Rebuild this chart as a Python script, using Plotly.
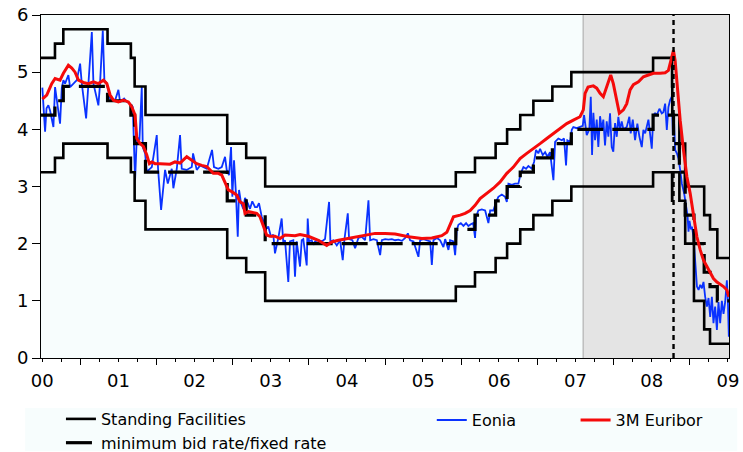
import pandas as pd
import plotly.graph_objects as go

# ---------------- data (decimal years / percent) ----------------
policy_dates = ["2000-06-09", "2000-09-01", "2000-10-11", "2001-05-11", "2001-08-31",
                "2001-09-18", "2001-11-09", "2002-12-06", "2003-03-07", "2003-06-06",
                "2005-12-06", "2006-03-08", "2006-06-15", "2006-08-09", "2006-10-11",
                "2006-12-13", "2007-03-14", "2007-06-13", "2008-07-09", "2008-10-08",
                "2008-10-09", "2008-10-15", "2008-11-12", "2008-12-10", "2009-01-21",
                "2009-03-11", "2009-04-08", "2009-05-13", "2009-07-10"]
marginal_lending = [5.25, 5.50, 5.75, 5.50, 5.25, 4.75, 4.25, 3.75, 3.50, 3.00,
                    3.25, 3.50, 3.75, 4.00, 4.25, 4.50, 4.75, 5.00, 5.25, 4.75,
                    4.25, 4.25, 3.75, 3.00, 3.00, 2.50, 2.25, 1.75, 1.75]
main_refi = [4.25, 4.50, 4.75, 4.50, 4.25, 3.75, 3.25, 2.75, 2.50, 2.00,
             2.25, 2.50, 2.75, 3.00, 3.25, 3.50, 3.75, 4.00, 4.25, 4.25,
             4.25, 3.75, 3.25, 2.50, 2.00, 1.50, 1.25, 1.00, 1.00]
deposit = [3.25, 3.50, 3.75, 3.50, 3.25, 2.75, 2.25, 1.75, 1.50, 1.00,
           1.25, 1.50, 1.75, 2.00, 2.25, 2.50, 2.75, 3.00, 3.25, 2.75,
           3.25, 3.25, 2.75, 2.00, 1.00, 0.50, 0.25, 0.25, 0.25]

eonia_t = [2000.501, 2000.517, 2000.537, 2000.556, 2000.580, 2000.602, 2000.646, 2000.668,
           2000.690, 2000.733, 2000.756, 2000.777, 2000.799, 2000.842, 2000.865, 2000.908,
           2000.953, 2000.996, 2001.018, 2001.075, 2001.105, 2001.150, 2001.171, 2001.236,
           2001.258, 2001.294, 2001.315, 2001.347, 2001.390, 2001.456, 2001.499, 2001.521,
           2001.574, 2001.609, 2001.653, 2001.688, 2001.718, 2001.741, 2001.775, 2001.806,
           2001.819, 2001.850, 2001.872, 2001.893, 2001.938, 2002.003, 2002.020, 2002.060,
           2002.112, 2002.148, 2002.200, 2002.221, 2002.266, 2002.309, 2002.331, 2002.397,
           2002.463, 2002.480, 2002.528, 2002.572, 2002.660, 2002.729, 2002.755, 2002.812,
           2002.857, 2002.900, 2002.922, 2002.952, 2002.979, 2002.996, 2003.018, 2003.044,
           2003.067, 2003.084, 2003.110, 2003.140, 2003.162, 2003.198, 2003.228, 2003.258,
           2003.294, 2003.320, 2003.346, 2003.382, 2003.403, 2003.425, 2003.468, 2003.504,
           2003.534, 2003.556, 2003.600, 2003.644, 2003.665, 2003.688, 2003.731, 2003.753,
           2003.797, 2003.819, 2003.841, 2003.885, 2003.907, 2003.928, 2003.973, 2003.986,
           2004.003, 2004.038, 2004.060, 2004.082, 2004.125, 2004.170, 2004.213, 2004.266,
           2004.283, 2004.322, 2004.367, 2004.410, 2004.445, 2004.466, 2004.511, 2004.528,
           2004.571, 2004.607, 2004.650, 2004.695, 2004.738, 2004.782, 2004.804, 2004.847,
           2004.892, 2004.935, 2004.957, 2005.001, 2005.044, 2005.089, 2005.132, 2005.175,
           2005.221, 2005.264, 2005.299, 2005.329, 2005.373, 2005.438, 2005.460, 2005.504,
           2005.548, 2005.592, 2005.614, 2005.635, 2005.680, 2005.723, 2005.766, 2005.789,
           2005.832, 2005.854, 2005.898, 2005.920, 2005.942, 2005.963, 2005.995, 2006.029,
           2006.064, 2006.094, 2006.126, 2006.157, 2006.182, 2006.195, 2006.225, 2006.270,
           2006.314, 2006.357, 2006.380, 2006.423, 2006.458, 2006.488, 2006.533, 2006.576,
           2006.599, 2006.620, 2006.664, 2006.707, 2006.751, 2006.782, 2006.817, 2006.852,
           2006.882, 2006.927, 2006.957, 2006.983, 2007.013, 2007.036, 2007.071, 2007.102,
           2007.132, 2007.167, 2007.211, 2007.233, 2007.276, 2007.321, 2007.351, 2007.377,
           2007.394, 2007.430, 2007.452, 2007.473, 2007.518, 2007.561, 2007.596, 2007.614,
           2007.649, 2007.683, 2007.702, 2007.719, 2007.736, 2007.758, 2007.780, 2007.801,
           2007.824, 2007.846, 2007.867, 2007.889, 2007.911, 2007.933, 2007.955, 2007.977,
           2007.998, 2008.021, 2008.043, 2008.064, 2008.086, 2008.108, 2008.130, 2008.174,
           2008.208, 2008.226, 2008.253, 2008.283, 2008.313, 2008.340, 2008.371, 2008.392,
           2008.415, 2008.458, 2008.480, 2008.502, 2008.523, 2008.545, 2008.568, 2008.602,
           2008.633, 2008.654, 2008.677, 2008.699, 2008.720, 2008.742, 2008.764, 2008.778,
           2008.795, 2008.808, 2008.831, 2008.852, 2008.874, 2008.896, 2008.926, 2008.953,
           2008.970, 2008.983, 2008.996, 2009.015, 2009.028, 2009.049, 2009.071, 2009.094,
           2009.115, 2009.137, 2009.159, 2009.180, 2009.202, 2009.225, 2009.246, 2009.268,
           2009.290, 2009.311, 2009.333, 2009.356, 2009.377, 2009.399, 2009.421, 2009.443,
           2009.465, 2009.487, 2009.500, 2009.513]
eonia_v = [4.73, 4.33, 3.96, 4.37, 4.42, 4.33, 4.04, 4.74,
           4.51, 4.10, 4.72, 4.86, 4.80, 4.95, 4.74, 4.80,
           4.86, 5.15, 4.80, 4.19, 4.80, 5.70, 4.80, 4.42,
           4.80, 5.73, 4.86, 4.80, 4.54, 4.51, 4.69, 4.48,
           4.54, 4.48, 4.45, 4.39, 3.11, 3.87, 3.81, 4.74,
           3.69, 3.58, 3.26, 3.29, 3.34, 3.90, 3.31, 2.59,
           3.29, 3.05, 3.31, 2.97, 3.31, 3.90, 3.31, 3.29,
           3.34, 3.58, 3.29, 3.37, 3.31, 3.64, 3.34, 3.31,
           3.34, 3.52, 3.29, 3.20, 3.69, 2.82, 3.46, 2.85,
           2.12, 2.94, 2.71, 2.61, 2.80, 2.71, 2.61, 2.74,
           2.64, 2.64, 2.71, 2.47, 2.40, 2.24, 2.30, 2.12,
           2.16, 1.83, 2.10, 2.44, 2.02, 2.06, 1.33, 2.04,
           2.06, 1.42, 2.04, 1.60, 2.06, 2.08, 1.62, 2.44,
           2.04, 2.06, 1.98, 2.04, 2.06, 2.04, 2.08, 2.73,
           2.04, 2.06, 1.97, 2.06, 1.71, 2.06, 2.53, 2.08,
           2.06, 1.92, 2.10, 2.12, 2.06, 2.76, 2.06, 2.08,
           2.06, 1.80, 2.06, 2.08, 2.07, 2.08, 2.06, 2.07,
           2.05, 2.10, 2.18, 2.06, 2.04, 1.77, 2.06, 2.08,
           2.06, 2.04, 1.63, 2.06, 2.10, 2.06, 1.94, 2.08,
           1.89, 2.06, 2.04, 1.80, 2.24, 2.33, 2.36, 2.31,
           2.36, 2.31, 2.34, 2.36, 2.10, 2.47, 2.58, 2.60,
           2.58, 2.36, 2.58, 2.58, 2.73, 2.82, 2.86, 2.82,
           2.73, 3.05, 3.03, 3.05, 3.05, 3.23, 3.34, 3.31,
           3.36, 3.31, 3.43, 3.64, 3.58, 3.66, 3.55, 3.60,
           3.52, 3.60, 3.11, 3.78, 3.84, 3.81, 3.84, 3.37,
           3.81, 3.78, 3.99, 4.04, 4.02, 4.04, 4.06, 4.25,
           3.90, 4.00, 4.57, 3.55, 4.29, 3.81, 4.17, 3.69,
           4.23, 3.99, 4.17, 3.72, 4.14, 3.87, 4.28, 3.69,
           3.61, 4.11, 3.87, 4.22, 3.99, 4.14, 4.00, 4.04,
           4.22, 3.93, 4.17, 3.81, 4.10, 3.87, 3.69, 3.99,
           3.93, 4.17, 3.90, 3.66, 4.25, 4.28, 4.25, 4.36,
           4.28, 4.30, 4.45, 3.99, 4.39, 4.51, 4.57, 3.90,
           4.10, 3.64, 3.58, 3.49, 3.29, 3.05, 2.88, 2.59,
           2.50, 2.21, 2.40, 2.25, 2.30, 2.12, 1.66, 1.25,
           1.19, 1.28, 1.22, 1.33, 1.07, 0.90, 1.05, 0.72,
           1.07, 0.61, 0.90, 0.49, 0.98, 0.61, 1.00, 0.77,
           0.98, 1.36, 1.02, 0.37]

euribor_t = [2000.501, 2000.559, 2000.624, 2000.668, 2000.733, 2000.777, 2000.842, 2000.887,
             2000.930, 2000.974, 2001.039, 2001.105, 2001.171, 2001.236, 2001.302, 2001.347,
             2001.390, 2001.433, 2001.499, 2001.565, 2001.630, 2001.675, 2001.718, 2001.741,
             2001.784, 2001.827, 2001.872, 2001.906, 2001.938, 2001.981, 2002.047, 2002.112,
             2002.178, 2002.243, 2002.309, 2002.397, 2002.463, 2002.528, 2002.594, 2002.660,
             2002.746, 2002.812, 2002.857, 2002.900, 2002.943, 2002.988, 2003.054, 2003.097,
             2003.140, 2003.162, 2003.206, 2003.250, 2003.316, 2003.359, 2003.403, 2003.447,
             2003.491, 2003.556, 2003.622, 2003.688, 2003.819, 2003.885, 2003.994, 2004.125,
             2004.235, 2004.301, 2004.388, 2004.519, 2004.650, 2004.781, 2004.869, 2005.001,
             2005.132, 2005.307, 2005.483, 2005.614, 2005.745, 2005.811, 2005.854, 2005.898,
             2005.986, 2006.051, 2006.117, 2006.182, 2006.248, 2006.336, 2006.423, 2006.511,
             2006.599, 2006.685, 2006.773, 2006.861, 2006.948, 2007.036, 2007.124, 2007.211,
             2007.299, 2007.386, 2007.473, 2007.561, 2007.604, 2007.627, 2007.666, 2007.736,
             2007.780, 2007.824, 2007.867, 2007.912, 2007.964, 2007.998, 2008.043, 2008.077,
             2008.130, 2008.174, 2008.218, 2008.261, 2008.327, 2008.392, 2008.458, 2008.524,
             2008.611, 2008.677, 2008.720, 2008.752, 2008.786, 2008.808, 2008.839, 2008.874,
             2008.917, 2008.962, 2009.005, 2009.049, 2009.093, 2009.137, 2009.180, 2009.225,
             2009.268, 2009.311, 2009.356, 2009.399, 2009.443, 2009.487, 2009.514]
euribor_v = [4.53, 4.60, 4.80, 4.89, 4.86, 4.98, 5.12, 5.07,
             5.00, 4.86, 4.82, 4.80, 4.83, 4.80, 4.86, 4.80,
             4.60, 4.51, 4.48, 4.51, 4.48, 4.39, 4.25, 3.84,
             3.75, 3.70, 3.55, 3.40, 3.43, 3.40, 3.40, 3.40,
             3.39, 3.43, 3.41, 3.52, 3.46, 3.40, 3.37, 3.35,
             3.23, 3.23, 3.20, 3.08, 2.94, 2.91, 2.85, 2.73,
             2.70, 2.53, 2.56, 2.55, 2.53, 2.47, 2.30, 2.15,
             2.13, 2.13, 2.09, 2.15, 2.14, 2.16, 2.13, 2.06,
             1.97, 2.03, 2.06, 2.09, 2.12, 2.15, 2.18, 2.18,
             2.17, 2.12, 2.09, 2.10, 2.14, 2.20, 2.33, 2.47,
             2.50, 2.53, 2.58, 2.67, 2.79, 2.88, 2.97, 3.08,
             3.23, 3.34, 3.49, 3.58, 3.66, 3.75, 3.84, 3.93,
             4.02, 4.10, 4.16, 4.22, 4.34, 4.63, 4.74, 4.76,
             4.72, 4.63, 4.57, 4.74, 4.95, 4.80, 4.48, 4.28,
             4.34, 4.45, 4.69, 4.78, 4.83, 4.92, 4.95, 4.98,
             4.98, 4.99, 5.03, 5.21, 5.38, 5.20, 4.69, 4.16,
             3.64, 3.17, 2.88, 2.47, 2.12, 1.89, 1.71, 1.60,
             1.48, 1.39, 1.33, 1.29, 1.25, 1.19, 1.07]

turmoil_start = "2007-08-09"
fixed_rate_start = "2008-10-15"
x_range = ["2000-06-26", "2009-07-08"]


def to_dates(years):
    out = []
    for t in years:
        y = int(t)
        a = pd.Timestamp(year=y, month=1, day=1)
        b = pd.Timestamp(year=y + 1, month=1, day=1)
        out.append(a + (b - a) * (t - y))
    return out


pdates = pd.to_datetime(policy_dates)
FONT = "DejaVu Sans"

fig = go.Figure()

fig.add_trace(go.Scatter(
    x=to_dates(eonia_t), y=eonia_v, mode="lines", name="Eonia",
    line=dict(color="#0A32FF", width=1.8), legend="legend2"))

fig.add_trace(go.Scatter(
    x=list(pdates) + [None] + list(pdates),
    y=marginal_lending + [None] + deposit,
    mode="lines", name="Standing Facilities", line_shape="hv",
    line=dict(color="black", width=2.6), legend="legend", connectgaps=False))

fig.add_trace(go.Scatter(
    x=pdates, y=main_refi, mode="lines", name="minimum bid rate/fixed rate",
    line_shape="hv", line=dict(color="black", width=3.2, dash="26px,9px"),
    legend="legend"))

fig.add_trace(go.Scatter(
    x=to_dates(euribor_t), y=euribor_v, mode="lines", name="3M Euribor",
    line=dict(color="#F50A0A", width=3), legend="legend3"))

fig.add_shape(type="rect", xref="x", yref="paper", x0=turmoil_start, x1=x_range[1],
              y0=0, y1=1, fillcolor="#E4E4E4", line=dict(width=0), layer="below")
fig.add_shape(type="line", xref="x", yref="paper", x0=turmoil_start, x1=turmoil_start,
              y0=0, y1=1, line=dict(color="#BDBDBD", width=1.5), layer="below")
fig.add_shape(type="line", xref="x", yref="paper", x0=fixed_rate_start, x1=fixed_rate_start,
              y0=0, y1=1, line=dict(color="black", width=2.4, dash="5px,4px"), layer="above")
# light legend panel
fig.add_shape(type="rect", xref="paper", yref="paper", x0=-0.023, x1=1.012,
              y0=-0.271, y1=-0.146, fillcolor="#F7FDFD", line=dict(width=0), layer="below")

legend_common = dict(font=dict(family=FONT, size=16, color="black"), bgcolor="rgba(0,0,0,0)",
                     borderwidth=0, xanchor="left", orientation="v", tracegroupgap=0)

fig.update_layout(
    width=743, height=452,
    margin=dict(l=41, r=14, t=15, b=94, autoexpand=False),
    paper_bgcolor="white", plot_bgcolor="#F7FDFD",
    font=dict(family=FONT, size=17, color="black"),
    showlegend=True,
    legend=dict(x=0.029, y=-0.2128, yanchor="middle", **legend_common),
    legend2=dict(x=0.568, y=-0.181, yanchor="middle", **legend_common),
    legend3=dict(x=0.777, y=-0.181, yanchor="middle", **legend_common),
    xaxis=dict(type="date", range=x_range, showgrid=False, zeroline=False,
               showline=True, mirror=True, linecolor="black", linewidth=1,
               ticks="outside", ticklen=6, tickwidth=1, tickcolor="black",
               dtick="M12", tick0="2000-01-01", tickformat="%y", ticklabelmode="period",
               ticklabeloverflow="allow",
               tickfont=dict(family=FONT, size=18),
               minor=dict(ticks="outside", ticklen=3, tickwidth=1, tickcolor="black",
                          dtick="M3", tick0="2000-01-01", showgrid=False)),
    yaxis=dict(range=[0, 6], dtick=1, showgrid=False, zeroline=False,
               showline=True, mirror=True, linecolor="black", linewidth=1,
               ticks="outside", ticklen=8, tickwidth=1, tickcolor="black",
               ticklabeloverflow="allow",
               tickfont=dict(family=FONT, size=18)),
)

fig.write_html("out.html", config={"displayModeBar": False},
               post_script="document.body.style.margin='0px';document.body.style.overflow='hidden';")
